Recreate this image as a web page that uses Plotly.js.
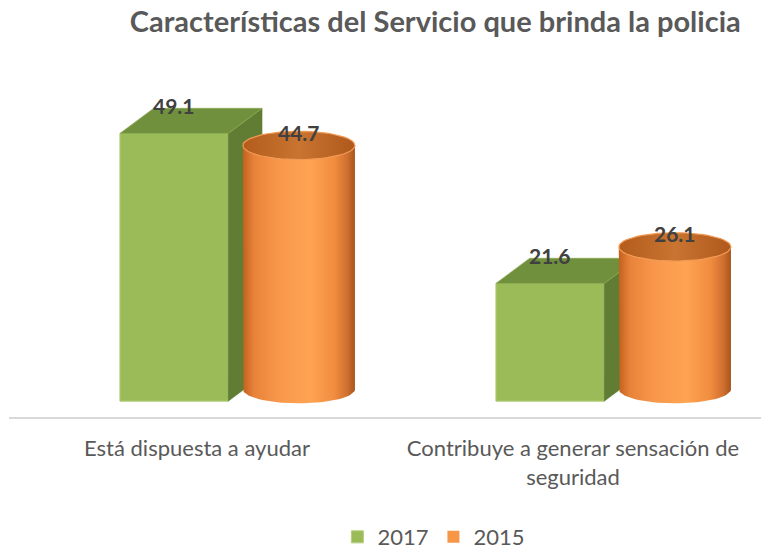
<!DOCTYPE html>
<html>
<head>
<meta charset="utf-8">
<script src="https://cdn.plot.ly/plotly-3.0.1.min.js"></script>
<style>html,body{margin:0;padding:0;background:#fff;}#chart{width:761px;height:550px;}</style>
</head>
<body>
<div id="chart"></div>
<script>
// ---- data ----
var categories = ['Está dispuesta a ayudar', 'Contribuye a generar sensación de<br>seguridad'];
var seriesNames = ['2017', '2015'];
var values2017 = [49.1, 21.6];
var values2015 = [44.7, 26.1];
var chartTitle = 'Características del Servicio que brinda la policia';

// ---- geometry / style ----
var xpos = categories.map(function (c, i) { return i; });
var gOff = -0.205, gW = 0.288;      // green box front face
var oOff = 0.122, oW = 0.298;       // orange cylinder
var dX = 0.09, dY = 4.6;            // box depth
var cylBase = 2.2, ellH = 2.6;      // cylinder base lift, ellipse half height
var FONT = 'Lato, "Open Sans", sans-serif';

function ellipsePts(cx, cy, rx, ry, a0, a1, n) {
  var xs = [], ys = [];
  for (var k = 0; k <= n; k++) {
    var a = a0 + (a1 - a0) * k / n;
    xs.push(cx + rx * Math.cos(a));
    ys.push(cy + ry * Math.sin(a));
  }
  return [xs, ys];
}

var traces = [];
// green front faces (legend 2017)
traces.push({
  type: 'bar', name: seriesNames[0], x: xpos, y: values2017,
  offset: gOff, width: gW,
  marker: {color: '#9BBB59', line: {color: '#B3CE7C', width: 1}},
  hoverinfo: 'y'
});
// orange body bars (legend 2015)
traces.push({
  type: 'bar', name: seriesNames[1], x: xpos, y: values2015,
  base: values2015.map(function () { return cylBase; }),
  offset: oOff, width: oW,
  marker: {color: '#F79646', line: {width: 0}},
  hoverinfo: 'y'
});

xpos.forEach(function (xc, i) {
  var v = values2017[i];
  var x0 = xc + gOff, x1 = x0 + gW;
  // side face
  traces.push({
    type: 'scatter', mode: 'lines', showlegend: false, hoverinfo: 'skip',
    x: [x1, x1 + dX, x1 + dX, x1, x1], y: [0, dY, v + dY, v, 0],
    fill: 'toself', fillcolor: '#617C33', line: {color: '#617C33', width: 0.5}
  });
  // top face
  traces.push({
    type: 'scatter', mode: 'lines', showlegend: false, hoverinfo: 'skip',
    x: [x0, x0 + dX, x1 + dX, x1, x0], y: [v, v + dY, v + dY, v, v],
    fill: 'toself', fillcolor: '#70903D', line: {color: '#8AAA52', width: 0.8}
  });

  // cylinder
  var w = values2015[i];
  var cx = xc + oOff + oW / 2, rx = oW / 2;
  var top = cylBase + w;
  var bot = ellipsePts(cx, cylBase, rx, ellH, Math.PI, 2 * Math.PI, 40);
  var bx = [cx - rx].concat(bot[0]).concat([cx + rx, cx - rx]);
  var by = [top].concat(bot[1]).concat([top, top]);
  traces.push({
    type: 'scatter', mode: 'lines', showlegend: false, hoverinfo: 'skip',
    x: bx, y: by, fill: 'toself', line: {width: 0},
    fillgradient: {type: 'horizontal', colorscale: [
      [0, '#C2621E'], [0.1, '#E8823A'], [0.3, '#F7964A'], [0.6, '#FFA452'],
      [0.82, '#F08C3E'], [0.93, '#D07030'], [1, '#A8561E']]}
  });
  var tp = ellipsePts(cx, top, rx, ellH, 0, 2 * Math.PI, 60);
  traces.push({
    type: 'scatter', mode: 'lines', showlegend: false, hoverinfo: 'skip',
    x: tp[0], y: tp[1], fill: 'toself', line: {color: '#F29A55', width: 1.2},
    fillgradient: {type: 'horizontal', colorscale: [
      [0, '#B35C1C'], [0.5, '#C97431'], [1, '#AE581C']]}
  });
});

var annotations = [];
xpos.forEach(function (xc, i) {
  annotations.push({
    x: xc + gOff + gW / 2, y: values2017[i] + dY + 0.5, xref: 'x', yref: 'y',
    text: '<b>' + values2017[i].toFixed(1) + '</b>', showarrow: false,
    font: {family: FONT, size: 21, color: '#404040'}, yanchor: 'middle'
  });
  annotations.push({
    x: xc + oOff + oW / 2, y: values2015[i] + cylBase + 2.4, xref: 'x', yref: 'y',
    text: '<b>' + values2015[i].toFixed(1) + '</b>', showarrow: false,
    font: {family: FONT, size: 21, color: '#404040'}, yanchor: 'middle'
  });
});

var layout = {
  width: 761, height: 550,
  margin: {l: 9, r: 0, t: 74, b: 133, autoexpand: false},
  paper_bgcolor: '#ffffff', plot_bgcolor: '#ffffff',
  title: {text: '<b>' + chartTitle + '</b>', x: 0.572, xref: 'container', xanchor: 'center',
          y: 0.96, yref: 'container', yanchor: 'middle',
          font: {family: FONT, size: 29, color: '#595959'}},
  showlegend: true,
  legend: {orientation: 'h', x: 0.565, xanchor: 'center', y: -0.35, yanchor: 'middle',
           itemwidth: 30,
           font: {family: FONT, size: 22, color: '#595959'}, traceorder: 'normal'},
  xaxis: {range: [-0.5, 1.5], tickvals: xpos, ticktext: categories, automargin: false,
          showgrid: false, zeroline: false, showline: true, linecolor: '#D9D9D9', linewidth: 2,
          ticks: '', ticklabelstandoff: 11, fixedrange: true,
          tickfont: {family: FONT, size: 22, color: '#595959'}},
  yaxis: {range: [-2.9, 60], visible: false, showgrid: false, zeroline: false, fixedrange: true},
  annotations: annotations,
  barmode: 'overlay'
};

Plotly.newPlot('chart', traces, layout, {displayModeBar: false, staticPlot: true});
</script>
</body>
</html>
